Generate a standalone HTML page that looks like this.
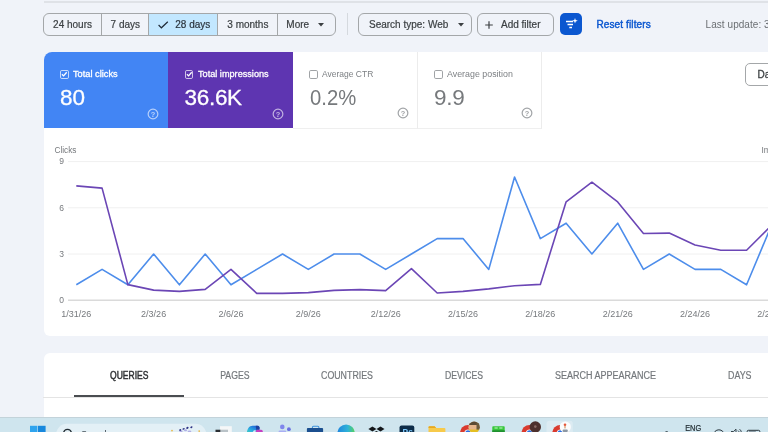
<!DOCTYPE html>
<html><head><meta charset="utf-8"><title>Performance</title>
<style>
html,body{margin:0;padding:0;}
body{width:768px;height:432px;overflow:hidden;background:#f0f3f9;font-family:"Liberation Sans",sans-serif;position:relative;}
.abs{position:absolute;}
#root{position:absolute;left:0;top:0;width:768px;height:432px;overflow:hidden;background:#f0f3f9;}
.topline{left:44px;top:1px;width:724px;height:1.6px;background:#dfe2e7;}
.seg{left:43.3px;top:13px;width:293px;height:22.5px;border:1px solid #a4a7a9;border-radius:6px;box-sizing:border-box;overflow:hidden;}
.seg div{position:absolute;top:0;height:21px;line-height:22px;font-size:10px;color:#3c4043;-webkit-text-stroke:0.2px #3c4043;white-space:nowrap;box-sizing:border-box;}
.chip{top:13px;height:22.5px;border:1px solid #a4a7a9;border-radius:6px;box-sizing:border-box;font-size:10px;color:#3c4043;-webkit-text-stroke:0.2px #3c4043;line-height:22px;white-space:nowrap;}
.t{position:absolute;white-space:nowrap;}
.card{top:52px;height:76.5px;box-sizing:border-box;}
.lbl{position:absolute;top:67.7px;font-size:9.6px;line-height:12px;white-space:nowrap;transform-origin:0 50%;}
.num{position:absolute;top:84.8px;font-size:22.5px;line-height:26px;white-space:nowrap;}
.cb{position:absolute;top:70px;width:8.6px;height:8.6px;box-sizing:border-box;border:1.1px solid rgba(255,255,255,0.7);border-radius:1.8px;}
.tab{position:absolute;top:369px;font-size:9px;line-height:12px;color:#6b6f73;white-space:nowrap;letter-spacing:-0.1px;}
</style></head><body><div id="root">

<div class="abs topline"></div>

<!-- date range segmented control -->
<div class="abs seg">
  <div style="left:0;width:56.5px;padding-left:8.8px;">24 hours</div>
  <div style="left:56.5px;width:47.5px;border-left:1px solid #a4a7a9;padding-left:8.8px;">7 days</div>
  <div style="left:104px;width:69px;border-left:1px solid #a4a7a9;background:#c2e7ff;color:#1f2a37;padding-left:26px;">28 days
    <svg style="position:absolute;left:9px;top:7px" width="11" height="8" viewBox="0 0 11 8"><path d="M0.6 4 L3.4 6.8 L9.8 0.8" fill="none" stroke="#1f2a37" stroke-width="1.2"/></svg>
  </div>
  <div style="left:173px;width:60px;border-left:1px solid #a4a7a9;padding-left:9px;">3 months</div>
  <div style="left:233px;width:59px;border-left:1px solid #a4a7a9;padding-left:8px;">More
    <svg style="position:absolute;left:40px;top:9px" width="6" height="4" viewBox="0 0 6 4"><path d="M0 0 L6 0 L3 3.5 Z" fill="#3c4043"/></svg>
  </div>
</div>

<div class="abs" style="left:347px;top:13px;width:1px;height:22px;background:#d5d9de;"></div>

<div class="abs chip" style="left:358px;width:114px;padding-left:10px;">Search type: Web
  <svg style="position:absolute;left:99px;top:9px" width="6" height="4" viewBox="0 0 6 4"><path d="M0 0 L6 0 L3 3.5 Z" fill="#3c4043"/></svg>
</div>
<div class="abs chip" style="left:477px;width:77px;padding-left:23px;">Add filter
  <svg style="position:absolute;left:7px;top:7px" width="8" height="8" viewBox="0 0 8 8"><path d="M4 0.2 V7.8 M0.2 4 H7.8" fill="none" stroke="#3c4043" stroke-width="1.2"/></svg>
</div>
<div class="abs" style="left:560.2px;top:13.2px;width:21.6px;height:21.6px;border-radius:5px;background:#0b57d0;">
  <svg style="position:absolute;left:0;top:0" width="22" height="22" viewBox="0 0 22 22"><path d="M6 8.5 H13 M7.5 11.5 H13 M9.3 14.5 H12" stroke="#fff" stroke-width="1.3" fill="none"/><path d="M15 5 L15.7 7.1 L17.8 7.8 L15.7 8.5 L15 10.6 L14.3 8.5 L12.2 7.8 L14.3 7.1 Z" fill="#fff"/></svg>
</div>
<div class="t" style="left:596.4px;top:19px;font-size:10px;line-height:12px;color:#0b57d0;-webkit-text-stroke:0.42px #0b57d0;letter-spacing:0.13px;">Reset filters</div>
<div class="t" style="left:705.6px;top:19px;font-size:10px;line-height:12px;color:#6b6f73;letter-spacing:0.05px;">Last update: 3 hours ago</div>

<!-- main chart card -->
<div class="abs" style="left:43.7px;top:52px;width:740px;height:284px;background:#fff;border-radius:8px 8px 8px 6px;"></div>

<!-- metric cards -->
<div class="abs card" style="left:43.6px;width:124.8px;height:75.7px;background:#4285f4;border-top-left-radius:8px;"></div>
<div class="abs card" style="left:168px;width:124.6px;height:75.7px;background:#5e35b1;"></div>
<div class="abs card" style="left:293px;width:124.5px;border-right:1px solid #ececec;border-bottom:1px solid #efefef;"></div>
<div class="abs card" style="left:418px;width:124px;border-right:1px solid #ececec;border-bottom:1px solid #efefef;"></div>

<div class="cb" style="left:60px;"><svg style="position:absolute;left:0;top:0" width="6.4" height="6.4" viewBox="0 0 6.4 6.4"><path d="M0.9 3.2 L2.6 4.9 L5.7 1.3" fill="none" stroke="#fff" stroke-width="1.3"/></svg></div>
<div class="lbl" style="left:73.2px;color:#fff;-webkit-text-stroke:0.3px #fff;transform:scaleX(0.962);">Total clicks</div>
<div class="num" style="left:60px;color:#fff;-webkit-text-stroke:0.3px #fff;">80</div>

<div class="cb" style="left:184.5px;"><svg style="position:absolute;left:0;top:0" width="6.4" height="6.4" viewBox="0 0 6.4 6.4"><path d="M0.9 3.2 L2.6 4.9 L5.7 1.3" fill="none" stroke="#fff" stroke-width="1.3"/></svg></div>
<div class="lbl" style="left:197.6px;color:#fff;-webkit-text-stroke:0.3px #fff;transform:scaleX(0.953);">Total impressions</div>
<div class="num" style="left:184.5px;color:#fff;letter-spacing:-0.3px;-webkit-text-stroke:0.3px #fff;">36.6K</div>

<div class="cb" style="left:309.2px;border-color:#a0a3a6;"></div>
<div class="lbl" style="left:322px;color:#7d8084;transform:scaleX(0.886);">Average CTR</div>
<div class="num" style="left:309.5px;color:#76797c;transform:scaleX(0.9);transform-origin:0 0;">0.2%</div>

<div class="cb" style="left:434px;border-color:#a0a3a6;"></div>
<div class="lbl" style="left:447px;color:#7d8084;transform:scaleX(0.923);">Average position</div>
<div class="num" style="left:434px;color:#76797c;letter-spacing:-0.3px;">9.9</div>

<!-- help icons -->
<svg class="abs" style="left:147.1px;top:107.6px" width="12" height="12" viewBox="0 0 12 12"><circle cx="6" cy="6" r="4.85" fill="none" stroke="#ffffff" stroke-width="1.2" opacity="0.62"/><text x="6" y="8.7" font-size="7.4" font-weight="bold" font-family="Liberation Sans, sans-serif" text-anchor="middle" fill="#ffffff" opacity="0.62">?</text></svg>
<svg class="abs" style="left:271.9px;top:107.7px" width="12" height="12" viewBox="0 0 12 12"><circle cx="6" cy="6" r="4.85" fill="none" stroke="#ffffff" stroke-width="1.2" opacity="0.62"/><text x="6" y="8.7" font-size="7.4" font-weight="bold" font-family="Liberation Sans, sans-serif" text-anchor="middle" fill="#ffffff" opacity="0.62">?</text></svg>
<svg class="abs" style="left:396.9px;top:107.4px" width="12" height="12" viewBox="0 0 12 12"><circle cx="6" cy="6" r="4.85" fill="none" stroke="#96999c" stroke-width="1.2" opacity="0.9"/><text x="6" y="8.7" font-size="7.4" font-weight="bold" font-family="Liberation Sans, sans-serif" text-anchor="middle" fill="#96999c" opacity="0.9">?</text></svg>
<svg class="abs" style="left:521.2px;top:107.4px" width="12" height="12" viewBox="0 0 12 12"><circle cx="6" cy="6" r="4.85" fill="none" stroke="#96999c" stroke-width="1.2" opacity="0.9"/><text x="6" y="8.7" font-size="7.4" font-weight="bold" font-family="Liberation Sans, sans-serif" text-anchor="middle" fill="#96999c" opacity="0.9">?</text></svg>

<!-- Da.. button -->
<div class="abs" style="left:745px;top:63px;width:40px;height:22.5px;border:1px solid #a4a7a9;border-radius:5px;box-sizing:border-box;font-size:10px;line-height:22px;color:#3c4043;-webkit-text-stroke:0.3px #3c4043;padding-left:11.5px;">Date</div>

<!-- chart -->
<svg class="abs" style="left:0;top:130px" width="768" height="200" viewBox="0 130 768 200" font-family="Liberation Sans, sans-serif">
  <g stroke="#f0f0f0" stroke-width="1">
    <line x1="68" y1="161.6" x2="768" y2="161.6"/>
    <line x1="68" y1="207.8" x2="768" y2="207.8"/>
    <line x1="68" y1="254" x2="768" y2="254"/>
  </g>
  <line x1="68" y1="300.2" x2="768" y2="300.2" stroke="#dadada" stroke-width="1.6"/>
  <g font-size="8.5" fill="#777a7e">
    <text x="54.4" y="152.6" font-size="8.3">Clicks</text>
    <text x="59.3" y="164.3">9</text>
    <text x="59.3" y="210.6">6</text>
    <text x="59.3" y="256.8">3</text>
    <text x="59.3" y="303">0</text>
    <text x="761.4" y="152.6" font-size="8.3">Impressions</text>
  </g>
  <g font-size="9" fill="#777a7e" text-anchor="middle">
    <text x="76.30" y="317">1/31/26</text>
    <text x="153.64" y="317">2/3/26</text>
    <text x="230.98" y="317">2/6/26</text>
    <text x="308.32" y="317">2/9/26</text>
    <text x="385.66" y="317">2/12/26</text>
    <text x="463.00" y="317">2/15/26</text>
    <text x="540.34" y="317">2/18/26</text>
    <text x="617.68" y="317">2/21/26</text>
    <text x="695.02" y="317">2/24/26</text>
    <text x="772.36" y="317">2/27/26</text>
  </g>
  <polyline fill="none" stroke="#4d8deb" stroke-width="1.6" stroke-linejoin="round" points="76.30,284.80 102.08,269.40 127.86,284.80 153.64,254.00 179.42,284.80 205.20,254.00 230.98,284.80 256.76,269.40 282.54,254.00 308.32,269.40 334.10,254.00 359.88,254.00 385.66,269.40 411.44,254.00 437.22,238.60 463.00,238.60 488.78,269.40 514.56,177.00 540.34,238.60 566.12,223.20 591.90,254.00 617.68,223.20 643.46,269.40 669.24,254.00 695.02,269.40 720.80,269.40 746.58,284.80 772.36,223.20"/>
  <polyline fill="none" stroke="#6b46b5" stroke-width="1.6" stroke-linejoin="round" points="76.30,185.90 102.08,188.15 127.86,284.65 153.64,290.15 179.42,291.40 205.20,289.40 230.98,269.40 256.76,293.40 282.54,293.40 308.32,292.65 334.10,290.40 359.88,289.65 385.66,290.65 411.44,268.70 437.22,293.00 463.00,291.40 488.78,288.90 514.56,285.70 540.34,284.40 566.12,201.80 591.90,182.20 617.68,201.90 643.46,233.50 669.24,233.10 695.02,245.00 720.80,250.20 746.58,250.20 772.36,224.40"/>
</svg>

<!-- tabs card -->
<div class="abs" style="left:43.7px;top:353.2px;width:740px;height:90px;background:#fff;border-top-left-radius:6px;"></div>
<div class="abs" style="left:43px;top:397px;width:725px;height:1px;background:#e4e4e4;"></div>
<div class="abs" style="left:74px;top:395.2px;width:110px;height:1.8px;background:#4a4d51;"></div>
<svg class="abs" style="left:0;top:360px" width="768" height="30" viewBox="0 360 768 30" font-family="Liberation Sans, sans-serif" font-size="10">
  <text x="110" y="378.9" textLength="38.4" lengthAdjust="spacingAndGlyphs" fill="#2f3134" stroke="#2f3134" stroke-width="0.45">QUERIES</text>
  <g fill="#74787c" stroke="#74787c" stroke-width="0.2">
  <text x="220.2" y="378.9" textLength="29.3" lengthAdjust="spacingAndGlyphs">PAGES</text>
  <text x="321" y="378.9" textLength="52" lengthAdjust="spacingAndGlyphs">COUNTRIES</text>
  <text x="445" y="378.9" textLength="38" lengthAdjust="spacingAndGlyphs">DEVICES</text>
  <text x="555" y="378.9" textLength="101" lengthAdjust="spacingAndGlyphs">SEARCH APPEARANCE</text>
  <text x="728" y="378.9" textLength="23.5" lengthAdjust="spacingAndGlyphs">DAYS</text>
  </g>
</svg>

<!-- taskbar -->
<div class="abs" style="left:0;top:416.6px;width:768px;height:16px;background:#cfe5ee;"></div>
<div class="abs" style="left:0;top:416.6px;width:768px;height:1px;background:#c3d3da;"></div>
<svg class="abs" style="left:0;top:417px" width="768" height="15" viewBox="0 417 768 15" font-family="Liberation Sans, sans-serif">
  <defs>
    <linearGradient id="gEdge" x1="0" y1="0" x2="1" y2="0"><stop offset="0" stop-color="#1f86de"/><stop offset="0.6" stop-color="#2fb3d8"/><stop offset="1" stop-color="#56d35a"/></linearGradient>
    <linearGradient id="gCop" x1="0" y1="1" x2="0.9" y2="0"><stop offset="0" stop-color="#3fcfb4"/><stop offset="0.35" stop-color="#2bb3e0"/><stop offset="0.75" stop-color="#2478dc"/><stop offset="1" stop-color="#2158c4"/></linearGradient>
    <clipPath id="cpA"><circle cx="474.1" cy="427.3" r="5.7"/></clipPath>
  </defs>
  <!-- start -->
  <rect x="30" y="425.8" width="7.4" height="7" fill="#2fa4ee"/>
  <rect x="38" y="425.8" width="7.6" height="7" fill="#1888dd"/>
  <!-- search pill -->
  <rect x="56" y="423.7" width="150.5" height="24" rx="11" fill="#e3f0f6"/>
  <circle cx="67.5" cy="433.3" r="3.9" fill="none" stroke="#222c33" stroke-width="1.4"/>
  <text x="81" y="437.1" font-size="9" fill="#39454c">Search</text>
  <circle cx="172" cy="430.6" r="0.9" fill="#e9b949"/>
  <circle cx="199.2" cy="431.1" r="0.9" fill="#e9b949"/>
  <g fill="#a69fe2" opacity="0.8"><ellipse cx="181" cy="431.2" rx="1.6" ry="1"/><ellipse cx="185.5" cy="430.2" rx="1.6" ry="1"/><ellipse cx="189.5" cy="431.4" rx="1.8" ry="1"/></g>
  <g fill="#2d3285"><ellipse cx="180.2" cy="430" rx="1.1" ry="0.8" transform="rotate(-30 180.2 430)"/><ellipse cx="183.6" cy="428.9" rx="1.2" ry="0.8" transform="rotate(-30 183.6 428.9)"/><ellipse cx="187.4" cy="427.9" rx="1.3" ry="0.9" transform="rotate(-30 187.4 427.9)"/><ellipse cx="191.4" cy="427.2" rx="1.2" ry="0.9" transform="rotate(-30 191.4 427.2)"/></g>
  <!-- task view -->
  <rect x="220" y="426.2" width="11.8" height="7" fill="#f5f7f8"/>
  <rect x="220" y="429.7" width="8" height="3" fill="#b9c2c7"/>
  <rect x="215.5" y="429.7" width="4.8" height="3" fill="#2b2f33"/>
  <!-- copilot -->
  <path d="M246.8 433 C247.2 429 249 425.7 252.6 425.7 H257.2 C259.6 425.7 259.9 427.6 259.3 429.8 L258.2 433 Z" fill="url(#gCop)"/>
  <path d="M255.8 425.7 H257.2 C259.6 425.7 259.9 427.6 259.3 429.8 L256.2 429.8 Z" fill="#1d3f9e"/>
  <rect x="255.8" y="429.7" width="7" height="4" rx="1.6" fill="#c540c2"/>
  <path d="M252.6 433 Q252.8 430 255.6 429.9 V433 Z" fill="#d9ebf2"/>
  <!-- teams -->
  <circle cx="282.3" cy="426.9" r="2.3" fill="#8086ec"/>
  <circle cx="288.9" cy="429.2" r="1.9" fill="#6a70e2"/>
  <rect x="278.6" y="430.6" width="7.6" height="3" rx="1.2" fill="#a9aef3"/>
  <!-- store -->
  <path d="M312.4 428.4 V427.4 Q312.4 426.3 313.5 426.3 H317.8 Q318.9 426.3 318.9 427.4 V428.4" fill="none" stroke="#3f92dc" stroke-width="1.1"/>
  <rect x="306.9" y="427.9" width="16.2" height="6" rx="1" fill="#1b4f8f"/>
  <!-- edge -->
  <circle cx="346.1" cy="433.2" r="8.7" fill="url(#gEdge)"/>
  <!-- dropbox -->
  <g fill="#14171a"><path d="M372.4 426.6 L376.4 429.1 L372.4 431.6 L368.4 429.1 Z"/><path d="M380.5 426.6 L384.5 429.1 L380.5 431.6 L376.5 429.1 Z"/><path d="M376.45 430.9 L379 432.5 H373.9 Z"/></g>
  <!-- photoshop -->
  <rect x="399.5" y="425.4" width="14.8" height="10" rx="2" fill="#0d2c48"/>
  <text x="402.6" y="435" font-size="8.4" font-weight="bold" fill="#7ecbff">Ps</text>
  <!-- folder -->
  <path d="M428.5 433 V427.2 Q428.5 426.2 429.5 426.2 H434.6 L436.2 427.9 H444.4 Q445.4 427.9 445.4 428.9 V433 Z" fill="#f7ca4b"/>
  <path d="M428.5 427.9 V427.2 Q428.5 426.2 429.5 426.2 H434.6 L436.2 427.9 Z" fill="#e6a822"/>
  <!-- chrome 1 -->
  <circle cx="468" cy="433" r="8" fill="#d93a2e"/>
  <circle cx="468" cy="433" r="3.6" fill="#f3f6f8"/>
  <circle cx="468" cy="433" r="2.7" fill="#2f6fe0"/>
  <g clip-path="url(#cpA)"><rect x="468" y="421" width="12" height="12" fill="#e6b58b"/><rect x="468" y="421" width="12" height="4" fill="#5c4a33"/><rect x="476.5" y="421" width="4" height="9" fill="#6b5a3c"/><rect x="468" y="429.6" width="12" height="4" fill="#e4bf22"/></g>
  <!-- green app -->
  <rect x="492.3" y="426.3" width="12.4" height="7" rx="0.8" fill="#37c63b"/>
  <rect x="494.5" y="427" width="3.2" height="2" fill="#7fe07f"/><rect x="499.3" y="427" width="3.2" height="2" fill="#7fe07f"/>
  <rect x="492.3" y="430.3" width="12.4" height="3" fill="#1f8f30"/>
  <!-- chrome 2 -->
  <circle cx="529.5" cy="433" r="8" fill="#d93a2e"/>
  <circle cx="529.5" cy="433" r="3.6" fill="#f3f6f8"/>
  <circle cx="529.5" cy="433" r="2.7" fill="#2f6fe0"/>
  <circle cx="535.3" cy="427" r="5.7" fill="#4d302d"/>
  <circle cx="535.3" cy="426.6" r="1.3" fill="#8a6a64"/>
  <!-- chrome 3 active -->
  <rect x="546.5" y="420.7" width="26.3" height="14" rx="3" fill="#dcebf2"/>
  <circle cx="560.3" cy="433" r="8" fill="#d93a2e"/>
  <circle cx="560.3" cy="433" r="3.6" fill="#f3f6f8"/>
  <circle cx="560.3" cy="433" r="2.7" fill="#2f6fe0"/>
  <circle cx="565.3" cy="427" r="5.6" fill="#fbfcfd"/>
  <circle cx="565" cy="424.8" r="1.3" fill="#e4573a"/>
  <rect x="564.5" y="426" width="1" height="2.4" fill="#c9824a"/>
  <rect x="562.6" y="429.6" width="5.2" height="2.4" rx="1" fill="#8c97a3"/>
  <!-- tray -->
  <path d="M664.8 432.8 L666.6 431 L668.4 432.8" fill="none" stroke="#26323a" stroke-width="0.9"/>
  <text x="685.2" y="431.2" font-size="8.4" fill="#1f2a30" stroke="#1f2a30" stroke-width="0.2" textLength="16" lengthAdjust="spacingAndGlyphs">ENG</text>
  <circle cx="718.9" cy="435.2" r="5.4" fill="none" stroke="#26323a" stroke-width="1"/>
  <path d="M731 431.5 H733.5 L736 429.2 V433 M738 430.6 Q739.4 431.6 739 433 M739.6 429.2 Q741.8 430.8 741.2 433" fill="none" stroke="#26323a" stroke-width="0.9"/>
  <rect x="747.2" y="430.3" width="12.6" height="5" rx="1.2" fill="none" stroke="#26323a" stroke-width="1"/>
  <rect x="748.8" y="431.6" width="7" height="2" fill="#26323a"/>
</svg>

</div></body></html>
